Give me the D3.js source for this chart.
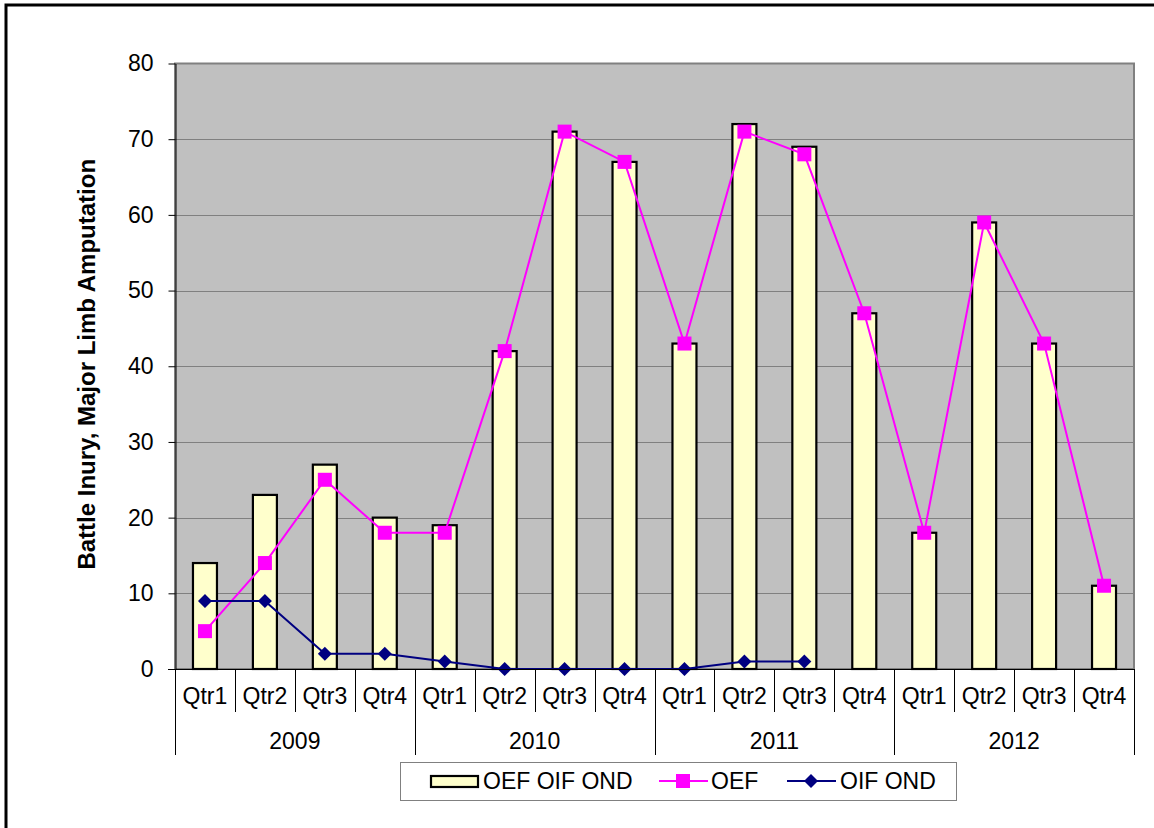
<!DOCTYPE html>
<html>
<head>
<meta charset="utf-8">
<script src="https://cdn.jsdelivr.net/npm/d3@7"></script>
<style>
  body { margin: 0; background: #fff; }
  svg { display: block; font-family: "Liberation Sans", Arial, sans-serif; }
</style>
</head>
<body>
<svg width="1154" height="828"></svg>
<script>
var years = ["2009", "2010", "2011", "2012"];
var quarters = ["Qtr1", "Qtr2", "Qtr3", "Qtr4"];
var total = [14, 23, 27, 20, 19, 42, 71, 67, 43, 72, 69, 47, 18, 59, 43, 11];
var oef = [5, 14, 25, 18, 18, 42, 71, 67, 43, 71, 68, 47, 18, 59, 43, 11];
var oifOnd = [9, 9, 2, 2, 1, 0, 0, 0, 0, 1, 1];
var yTicks = [0, 10, 20, 30, 40, 50, 60, 70, 80];

var cats = [];
years.forEach(y => quarters.forEach(q => cats.push(y + "-" + q)));

var svg = d3.select("svg");
var plotLeft = 175, plotRight = 1134, plotTop = 63.5, plotBottom = 669;

// outer frame, runs off the right and bottom edges
svg.append("rect").attr("x", 6).attr("y", 5).attr("width", 1200).attr("height", 900)
  .attr("fill", "none").attr("stroke", "#000").attr("stroke-width", 3);

var x = d3.scaleBand().domain(cats).range([plotLeft, plotRight]).paddingInner(0).paddingOuter(0);
var y = d3.scaleLinear().domain([0, 80]).range([plotBottom, plotTop]);

// plot area
svg.append("rect").attr("x", plotLeft).attr("y", plotTop)
  .attr("width", plotRight - plotLeft).attr("height", plotBottom - plotTop)
  .attr("fill", "#C0C0C0").attr("stroke", "#808080").attr("stroke-width", 2);

// gridlines
svg.append("g").selectAll("line").data(yTicks.filter(d => d > 0 && d < 80)).join("line")
  .attr("x1", plotLeft).attr("x2", plotRight)
  .attr("y1", d => Math.round(y(d)) + 0.5).attr("y2", d => Math.round(y(d)) + 0.5)
  .attr("stroke", "#808080").attr("stroke-width", 1);

// y axis
var yAxis = svg.append("g").attr("transform", "translate(" + (plotLeft + 0.5) + ",0)")
  .call(d3.axisLeft(y).tickValues(yTicks).tickSize(7).tickSizeOuter(0).tickPadding(15));
yAxis.select(".domain").attr("stroke", "#000");
yAxis.selectAll(".tick line").attr("stroke", "#000");
yAxis.selectAll("text").attr("font-size", 23).attr("fill", "#000")
  .attr("font-family", "'Liberation Sans', Arial, sans-serif");

// bars
var bw = 24;
svg.append("g").selectAll("rect").data(total).join("rect")
  .attr("x", (d, i) => x(cats[i]) + x.bandwidth() / 2 - bw / 2)
  .attr("y", d => y(d))
  .attr("width", bw)
  .attr("height", d => y(0) - y(d))
  .attr("fill", "#FFFFCC").attr("stroke", "#000").attr("stroke-width", 2.2);

var cx = (d, i) => x(cats[i]) + x.bandwidth() / 2;

// OEF line
svg.append("path").datum(oef)
  .attr("d", d3.line().x(cx).y(d => y(d)))
  .attr("fill", "none").attr("stroke", "#FF00FF").attr("stroke-width", 2);
svg.append("g").selectAll("rect").data(oef).join("rect")
  .attr("x", (d, i) => cx(d, i) - 7).attr("y", d => y(d) - 7)
  .attr("width", 14).attr("height", 14).attr("fill", "#FF00FF");

// OIF OND line
svg.append("path").datum(oifOnd)
  .attr("d", d3.line().x(cx).y(d => y(d)))
  .attr("fill", "none").attr("stroke", "#000080").attr("stroke-width", 2);
var diamond = "M0,-7L7,0L0,7L-7,0Z";
svg.append("g").selectAll("path").data(oifOnd).join("path")
  .attr("transform", (d, i) => "translate(" + cx(d, i) + "," + y(d) + ")")
  .attr("d", diamond).attr("fill", "#000080");

// x axis line
svg.append("line").attr("x1", plotLeft - 7).attr("x2", plotRight)
  .attr("y1", plotBottom + 0.5).attr("y2", plotBottom + 0.5)
  .attr("stroke", "#000");

// quarter separators and labels
var edges = cats.map(c => x(c)).concat([plotRight]);
svg.append("g").selectAll("line").data(edges).join("line")
  .attr("x1", d => Math.round(d) + 0.5).attr("x2", d => Math.round(d) + 0.5)
  .attr("y1", plotBottom).attr("y2", (d, i) => i % 4 === 0 ? 755 : 712)
  .attr("stroke", "#000").attr("stroke-width", 1);
svg.append("g").selectAll("text").data(cats).join("text")
  .attr("x", d => x(d) + x.bandwidth() / 2).attr("y", 704)
  .attr("text-anchor", "middle").attr("font-size", 23)
  .text(d => d.split("-")[1]);

// year labels
svg.append("g").selectAll("text").data(years).join("text")
  .attr("x", d => (x(d + "-Qtr1") + x(d + "-Qtr4") + x.bandwidth()) / 2).attr("y", 749)
  .attr("text-anchor", "middle").attr("font-size", 23)
  .text(d => d);

// y axis title
svg.append("text")
  .attr("transform", "translate(95," + ((plotTop + plotBottom) / 2 - 2) + ") rotate(-90)")
  .attr("text-anchor", "middle").attr("font-size", 24).attr("font-weight", "bold")
  .text("Battle Inury, Major Limb Amputation");

// legend
var lg = svg.append("g");
lg.append("rect").attr("x", 400.5).attr("y", 762.5).attr("width", 556).attr("height", 38)
  .attr("fill", "#fff").attr("stroke", "#808080").attr("stroke-width", 1);
lg.append("rect").attr("x", 431).attr("y", 776).attr("width", 47).attr("height", 11)
  .attr("fill", "#FFFFCC").attr("stroke", "#000").attr("stroke-width", 2.2);
lg.append("text").attr("x", 483).attr("y", 789).attr("font-size", 23).text("OEF OIF OND");
lg.append("line").attr("x1", 659).attr("x2", 708).attr("y1", 781).attr("y2", 781)
  .attr("stroke", "#FF00FF").attr("stroke-width", 2);
lg.append("rect").attr("x", 676).attr("y", 774).attr("width", 14).attr("height", 14).attr("fill", "#FF00FF");
lg.append("text").attr("x", 711).attr("y", 789).attr("font-size", 23).text("OEF");
lg.append("line").attr("x1", 787).attr("x2", 836).attr("y1", 781).attr("y2", 781)
  .attr("stroke", "#000080").attr("stroke-width", 2);
lg.append("path").attr("transform", "translate(811,781)").attr("d", diamond).attr("fill", "#000080");
lg.append("text").attr("x", 840).attr("y", 789).attr("font-size", 23).text("OIF OND");
</script>
</body>
</html>
